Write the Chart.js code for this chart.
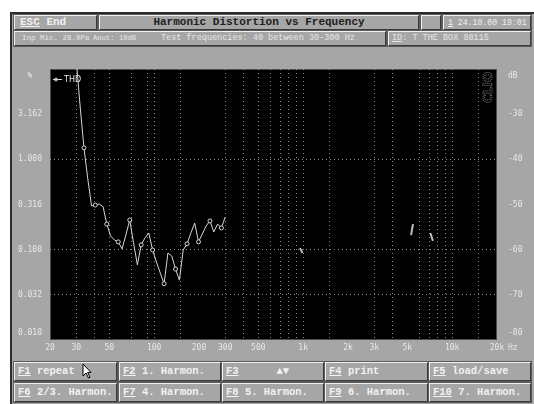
<!DOCTYPE html>
<html>
<head>
<meta charset="utf-8">
<script src="https://cdn.jsdelivr.net/npm/chart.js@4.4.0/dist/chart.umd.min.js"></script>
<style>
  html, body { margin:0; padding:0; background:#ffffff; width:534px; height:404px; overflow:hidden; }
  #frame { position:absolute; left:10px; top:12px; right:0; bottom:0; background:#a6a6a6;
           border-left:2px solid #2c2c2c; border-top:2px solid #2c2c2c; }
  .box { position:absolute; box-sizing:border-box; background:#a6a6a6;
         border:1px solid; border-color:#f2f2f2 #3a3a3a #3a3a3a #f2f2f2;
         box-shadow:0 0 0 1px #5a5a5a; font-family:"Liberation Mono", "DejaVu Sans Mono", monospace;
         white-space:pre; overflow:hidden; }
  .hdr { height:15px; top:15px; font-size:11px; font-weight:bold; line-height:13px; color:#f0f0f0; }
  .row2 { height:15px; top:31px; font-size:8.5px; line-height:13px; color:#e6e6e6; }
  .btn { height:19px; font-size:10.5px; font-weight:bold; line-height:17px; color:#f2f2f2; padding-left:3px; }
  .seg { position:absolute; top:0; }
  u { text-decoration-thickness:1px; text-underline-offset:1px; }
  #chartCanvas { position:absolute; left:0; top:0; }
  #hz { position:absolute; left:508px; top:343px; font:8px "DejaVu Sans Mono", monospace; color:#e6e6e6; }
  #cursor { position:absolute; left:82px; top:363px; }
</style>
</head>
<body>
<div id="frame"></div>

<div class="box hdr" style="left:14px;width:83px;padding-left:5px;"><u>ESC</u> End</div>
<div class="box hdr" style="left:99px;width:320px;text-align:center;color:#202020;">Harmonic Distortion vs Frequency</div>
<div class="box hdr" style="left:421px;width:20px;"></div>
<div class="box hdr" style="left:443px;width:88px;font-size:8.2px;font-weight:normal;padding-left:4px;"><u>1</u> 24.10.00 19:01</div>

<div class="box row2" style="left:14px;width:372px;">
  <span class="seg" style="left:7px;font-size:7.5px;">Inp Mic. 28.0Pa</span><span class="seg" style="left:78px;font-size:7.2px;">Aout: 10dB</span><span class="seg" style="left:146px;">Test frequencies: 40 between 30-300 Hz</span>
</div>
<div class="box row2" style="left:388px;width:143px;padding-left:3px;"><u>ID</u>: T THE BOX 88115</div>

<div class="box btn" style="top:362px;left:14px;width:103px;"><u>F1</u> repeat</div>
<div class="box btn" style="top:362px;left:119px;width:102px;"><u>F2</u> 1. Harmon.</div>
<div class="box btn" style="top:362px;left:222px;width:102px;"><u>F3</u>      ▲▼</div>
<div class="box btn" style="top:362px;left:325px;width:103px;"><u>F4</u> print</div>
<div class="box btn" style="top:362px;left:429px;width:102px;"><u>F5</u> load/save</div>
<div class="box btn" style="top:383px;left:14px;width:103px;"><u>F6</u> 2/3. Harmon.</div>
<div class="box btn" style="top:383px;left:119px;width:102px;"><u>F7</u> 4. Harmon.</div>
<div class="box btn" style="top:383px;left:222px;width:102px;"><u>F8</u> 5. Harmon.</div>
<div class="box btn" style="top:383px;left:325px;width:103px;"><u>F9</u> 6. Harmon.</div>
<div class="box btn" style="top:383px;left:429px;width:102px;"><u>F10</u> 7. Harmon.</div>

<svg id="cursor" width="10" height="16" viewBox="0 0 10 16"><path d="M1 1 L1 13 L4 10 L6.5 15 L8 14.3 L5.6 9.4 L9 9.4 Z" fill="#ffffff" stroke="#000000" stroke-width="1"/></svg>

<canvas id="chartCanvas" width="534" height="404"></canvas>
<div id="hz">Hz</div>

<script>
// ---- data ----
const testFreqsHz = [30.0, 31.8, 33.8, 35.8, 38.0, 40.3, 42.8, 45.4, 48.1, 51.0,
                     54.1, 57.4, 60.9, 64.6, 68.6, 72.7, 77.2, 81.8, 86.8, 92.1,
                     97.7, 103.6, 110.0, 116.6, 123.7, 131.3, 139.2, 147.7, 156.7, 166.2,
                     176.4, 187.1, 198.5, 210.5, 223.3, 236.9, 251.3, 266.6, 282.8, 300.0];
const thdPercent = [12.6, 4.0, 1.34, 0.62, 0.305, 0.312, 0.320, 0.300, 0.192, 0.142,
                    0.128, 0.122, 0.102, 0.145, 0.213, 0.119, 0.068, 0.113, 0.135, 0.153,
                    0.099, 0.073, 0.055, 0.042, 0.092, 0.085, 0.061, 0.046, 0.099, 0.116,
                    0.153, 0.197, 0.122, 0.149, 0.183, 0.208, 0.157, 0.192, 0.174, 0.230];
// small stray traces visible at higher frequencies (null = gap)
const strayFreqsHz = [952, 990, 990, 5300, 5460, 5460, 7140, 7430];
const strayPercent = [0.104, 0.092, null, 0.145, 0.192, null, 0.153, 0.125];

const xTickValues = [20, 30, 50, 100, 200, 300, 500, 1000, 2000, 3000, 5000, 10000, 20000];
const xTickText   = ['20', '30', '50', '100', '200', '300', '500', '1k', '2k', '3k', '5k', '10k', '20k'];
const xGridValues = [30, 40, 50, 70, 90, 100, 150, 300, 400, 500, 600, 700, 800, 900, 1000,
                     1500, 3000, 4000, 6000, 7000, 8000, 9000, 10000, 15000];
const yTickValues = [0.01, 0.031623, 0.1, 0.31623, 1, 3.1623, 10];
const yTickText   = ['0.010', '0.032', '0.100', '0.316', '1.000', '3.162', '%  '];
const yGridValues = [0.031623, 0.1, 1];
const dbTickValues = [-80, -70, -60, -50, -40, -30, -20];
const dbTickText   = ['-80', '-70', '-60', '-50', '-40', '-30', 'dB'];

// ---- chart ----
const tickFont = { family: 'DejaVu Sans Mono', size: 8, lineHeight: 1.7 };
const tickColor = '#e8e8e8';
const gridColor = '#8c8c8c';
const traceColor = '#d6d6d6';

// first / last labels of the vertical axes sit just inside the plot (like the reference)
function edgeLabel(text, i, n) {
  if (i === 0) return [text, ''];
  if (i === n - 1) return ['', text];
  return text;
}

const panelPlugin = {
  id: 'panel',
  beforeDraw(chart) {
    const { ctx, chartArea: a } = chart;
    ctx.save();
    ctx.fillStyle = '#000000';
    ctx.fillRect(a.left, a.top, a.right - a.left, a.bottom - a.top);
    ctx.restore();
  },
  beforeDatasetsDraw(chart) {
    const { ctx, chartArea: a } = chart;
    ctx.save();
    ctx.strokeStyle = '#9a9a9a';
    ctx.lineWidth = 1;
    ctx.setLineDash([1, 1]);
    ctx.strokeRect(a.left + 0.5, a.top + 0.5, a.right - a.left - 1, a.bottom - a.top - 1);
    ctx.setLineDash([]);
    // legend entry, drawn inside the plot area
    const ds = chart.data.datasets[0];
    const ly = a.top + 10.5;
    ctx.strokeStyle = ds.borderColor;
    ctx.beginPath();
    ctx.moveTo(a.left + 3, ly);
    ctx.lineTo(a.left + 12, ly);
    ctx.stroke();
    ctx.beginPath();
    ctx.arc(a.left + 6, ly, 1.5, 0, Math.PI * 2);
    ctx.stroke();
    ctx.fillStyle = tickColor;
    ctx.font = '8px "DejaVu Sans"';
    ctx.textBaseline = 'middle';
    ctx.fillText(ds.label, a.left + 14, ly);
    // logo
    ctx.translate(a.right - 8, a.top + 34);
    ctx.rotate(-Math.PI / 2);
    ctx.font = 'bold 12px "DejaVu Sans"';
    ctx.textBaseline = 'middle';
    ctx.strokeStyle = '#7a7a7a';
    ctx.setLineDash([1, 1]);
    ctx.strokeText('CLIO', 0, 0);
    ctx.restore();
  }
};

new Chart(document.getElementById('chartCanvas'), {
  type: 'line',
  data: {
    datasets: [
      {
        label: 'THD',
        data: testFreqsHz.map((f, i) => ({ x: f, y: thdPercent[i] })),
        borderColor: traceColor,
        backgroundColor: traceColor,
        borderWidth: 1,
        tension: 0,
        pointRadius: (c) => (c.dataIndex % 3 === 2 ? 2 : 0),
        pointBorderColor: traceColor,
        pointBackgroundColor: '#000000',
        pointBorderWidth: 1,
        xAxisID: 'x',
        yAxisID: 'y'
      },
      {
        label: 'stray',
        data: strayFreqsHz.map((f, i) => ({ x: f, y: strayPercent[i] })),
        borderColor: '#bdbdbd',
        borderWidth: 2,
        pointRadius: 0,
        spanGaps: false,
        xAxisID: 'x',
        yAxisID: 'y'
      }
    ]
  },
  options: {
    responsive: false,
    animation: false,
    events: [],
    layout: { padding: { left: 12, right: 7, top: 69, bottom: 47 } },
    plugins: {
      legend: { display: false },
      tooltip: { enabled: false }
    },
    scales: {
      x: {
        type: 'logarithmic',
        position: 'bottom',
        min: 20,
        max: 20000,
        afterBuildTicks: (s) => {
          const vals = Array.from(new Set(xTickValues.concat(xGridValues))).sort((a, b) => a - b);
          s.ticks = vals.map((v) => ({ value: v }));
        },
        afterFit: (s) => { s.height = 17; },
        ticks: {
          autoSkip: false,
          maxRotation: 0,
          padding: 3,
          color: tickColor,
          font: { family: 'DejaVu Sans Mono', size: 8 },
          callback: (v) => { const i = xTickValues.indexOf(v); return i >= 0 ? xTickText[i] : ''; }
        },
        grid: {
          drawTicks: false,
          color: (c) => (c.tick && xGridValues.includes(c.tick.value) ? gridColor : 'rgba(0,0,0,0)'),
          lineWidth: 1
        },
        border: { display: false, dash: [1, 3] }
      },
      y: {
        type: 'logarithmic',
        position: 'left',
        min: 0.01,
        max: 10,
        afterBuildTicks: (s) => { s.ticks = yTickValues.map((v) => ({ value: v })); },
        afterFit: (s) => { s.width = 38; },
        ticks: {
          padding: 8,
          color: tickColor,
          font: tickFont,
          callback: (v) => {
            const i = yTickValues.indexOf(v);
            return i >= 0 ? edgeLabel(yTickText[i], i, yTickValues.length) : '';
          }
        },
        grid: {
          drawTicks: false,
          color: (c) => (c.tick && yGridValues.includes(c.tick.value) ? gridColor : 'rgba(0,0,0,0)'),
          lineWidth: 1
        },
        border: { display: false, dash: [1, 3] }
      },
      db: {
        type: 'linear',
        position: 'right',
        min: -80,
        max: -20,
        afterBuildTicks: (s) => { s.ticks = dbTickValues.map((v) => ({ value: v })); },
        afterFit: (s) => { s.width = 30; },
        ticks: {
          padding: 11,
          color: tickColor,
          font: tickFont,
          callback: (v) => {
            const i = dbTickValues.indexOf(v);
            return i >= 0 ? edgeLabel(dbTickText[i], i, dbTickValues.length) : '';
          }
        },
        grid: { display: false, drawTicks: false },
        border: { display: false }
      }
    }
  },
  plugins: [panelPlugin]
});
</script>
</body>
</html>
